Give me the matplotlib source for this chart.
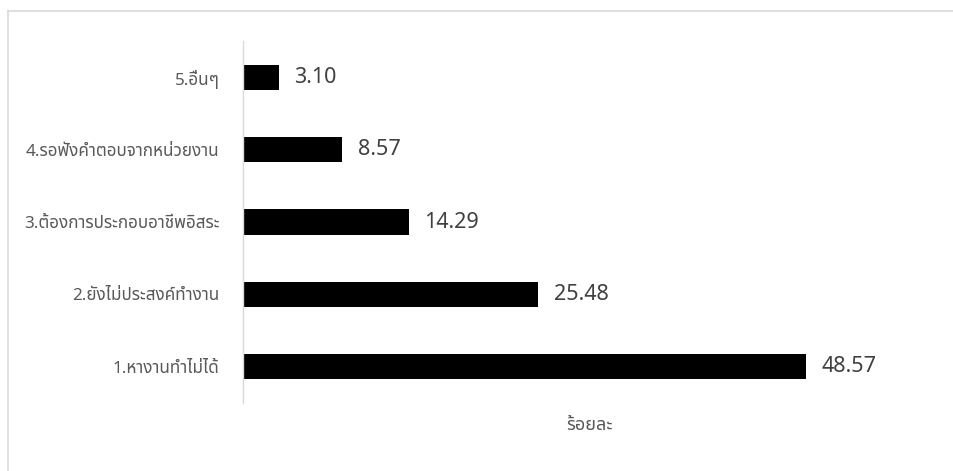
import matplotlib
matplotlib.use('Agg')
from matplotlib import pyplot as plt
from matplotlib.lines import Line2D

# data
categories = ['1.หางานทำไม่ได้', '2.ยังไม่ประสงค์ทำงาน', '3.ต้องการประกอบอาชีพอิสระ',
              '4.รอฟังคำตอบจากหน่วยงาน', '5.อื่นๆ']
values = [48.57, 25.48, 14.29, 8.57, 3.10]
xlabel = 'ร้อยละ'

plt.rcParams['font.family'] = ['Noto Sans Thai', 'Noto Sans Thai UI', 'Loma', 'Garuda',
                               'Noto Sans', 'DejaVu Sans']

W, H = 954, 471
fig = plt.figure(figsize=(W / 100, H / 100), dpi=100)

# axes placement in pixels: left 243, right 938, top 41, bottom 403
ax = fig.add_axes([243 / W, 1 - 403 / H, (938 - 243) / W, (403 - 41) / H])

y = list(range(len(categories)))
ax.barh(y, values, height=0.35, color='black')
ax.set_xlim(0, 60)
ax.set_ylim(-0.5, len(categories) - 0.5)
ax.set_yticks(y)
ax.set_yticklabels(categories, fontsize=12.3, color='#595959')
ax.tick_params(axis='y', length=0, pad=17)
ax.set_xticks([])

for s in ['top', 'right', 'bottom']:
    ax.spines[s].set_visible(False)
ax.spines['left'].set_color('#d9d9d9')
ax.spines['left'].set_linewidth(1)

for yi, v in zip(y, values):
    ax.text(v + 1.35, yi, '%.2f' % v, va='center', ha='left', fontsize=15.5, color='#404040')

fig.text(590 / W, 1 - 425 / H, xlabel, ha='center', va='center', fontsize=13, color='#595959')

# chart area border (top and left visible)
fig.add_artist(Line2D([8 / W, 8 / W], [0, 1 - 11 / H], transform=fig.transFigure,
                      color='#d9d9d9', lw=1.2))
fig.add_artist(Line2D([8 / W, 1], [1 - 11 / H, 1 - 11 / H], transform=fig.transFigure,
                      color='#d9d9d9', lw=1.2))

fig.savefig('out.png', dpi=100)
